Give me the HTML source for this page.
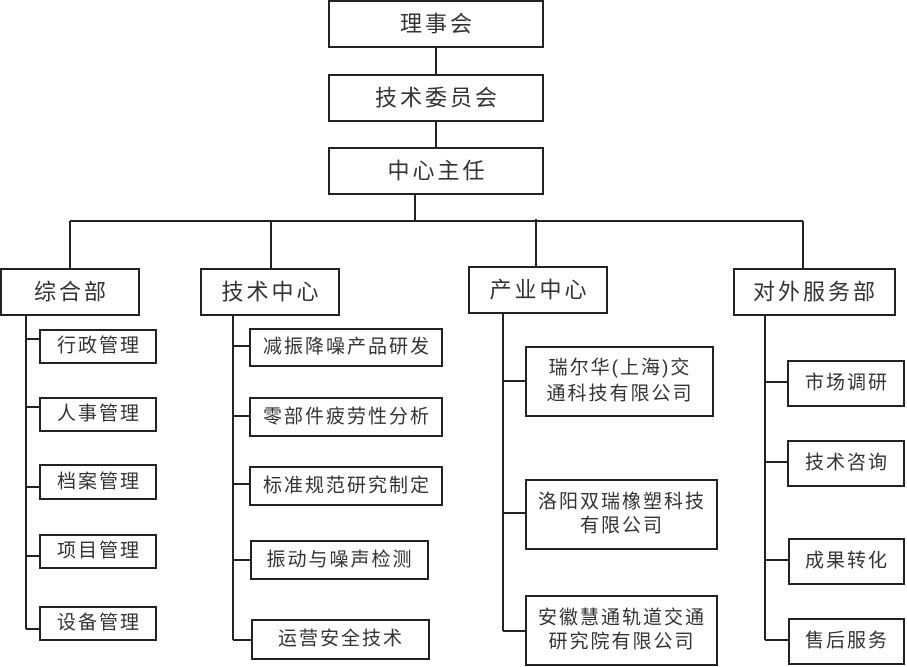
<!DOCTYPE html>
<html><head><meta charset="utf-8"><style>
html,body{margin:0;padding:0;background:#fff;}
svg{display:block;}
text{font-family:"Liberation Sans","Noto Sans CJK SC",sans-serif;fill:#333;text-anchor:middle;dominant-baseline:central;}
.b{fill:#fff;stroke:#222;stroke-width:2;}
.l{stroke:#222;stroke-width:2;fill:none;}
.t1{font-size:22px;letter-spacing:3px;}
.t2{font-size:19px;letter-spacing:2px;}
</style></head><body>
<svg width="907" height="667" viewBox="0 0 907 667" xmlns="http://www.w3.org/2000/svg">
<path class="l" d="M436 47V75 M436 121V148 M415 194V221 M70 221H803 M70 221V269 M271 221V269 M536 219V267 M803 221V269"/>
<path class="l" d="M26 315V629 M26 339H40 M26 407H40 M26 487H40 M26 556H40 M26 629H40"/>
<path class="l" d="M233 315V640 M233 346H250 M233 416H250 M233 484H250 M233 560H251 M233 640H252"/>
<path class="l" d="M503 313V631 M503 381H526 M503 513H526 M503 631H526"/>
<path class="l" d="M765 315V640 M765 382H788 M765 462H788 M765 560H788 M765 640H788"/>
<g transform="translate(1.5,0)">
<rect class="b" x="327.5" y="1" width="214" height="46"/><text class="t1" x="436" y="24">理事会</text>
<rect class="b" x="327.5" y="75" width="214" height="46"/><text class="t1" x="436" y="98">技术委员会</text>
<rect class="b" x="327.5" y="148" width="214" height="46"/><text class="t1" x="436" y="171">中心主任</text>
<rect class="b" x="-0.5" y="269" width="138" height="46"/><text class="t1" x="70" y="292">综合部</text>
<rect class="b" x="199.5" y="269" width="138" height="46"/><text class="t1" x="270" y="292">技术中心</text>
<rect class="b" x="467.5" y="267" width="138" height="46"/><text class="t1" x="538" y="290">产业中心</text>
<rect class="b" x="732.5" y="269" width="161" height="46"/><text class="t1" x="814" y="292">对外服务部</text>
</g>
<g transform="translate(1,0)">
<rect class="b" x="39" y="330" width="116" height="33"/><text class="t2" x="98" y="346">行政管理</text>
<rect class="b" x="39" y="398" width="116" height="33"/><text class="t2" x="98" y="414">人事管理</text>
<rect class="b" x="39" y="465" width="116" height="34"/><text class="t2" x="98" y="482">档案管理</text>
<rect class="b" x="39" y="535" width="116" height="33"/><text class="t2" x="98" y="551">项目管理</text>
<rect class="b" x="39" y="607" width="116" height="33"/><text class="t2" x="98" y="623">设备管理</text>
<rect class="b" x="249" y="329" width="192" height="37"/><text class="t2" x="346" y="347">减振降噪产品研发</text>
<rect class="b" x="249" y="398" width="192" height="38"/><text class="t2" x="346" y="417">零部件疲劳性分析</text>
<rect class="b" x="249" y="467" width="192" height="38"/><text class="t2" x="346" y="486">标准规范研究制定</text>
<rect class="b" x="250" y="541" width="177" height="38"/><text class="t2" x="339" y="560">振动与噪声检测</text>
<rect class="b" x="251" y="620" width="177" height="39"/><text class="t2" x="340" y="639">运营安全技术</text>
<rect class="b" x="525" y="347" width="187" height="69"/><text class="t2" x="619" y="368">瑞尔华(上海)交</text><text class="t2" x="619" y="394">通科技有限公司</text>
<rect class="b" x="525" y="480" width="191" height="69"/><text class="t2" x="621" y="502">洛阳双瑞橡塑科技</text><text class="t2" x="621" y="526">有限公司</text>
<rect class="b" x="525" y="596" width="191" height="69"/><text class="t2" x="621" y="618">安徽慧通轨道交通</text><text class="t2" x="621" y="642">研究院有限公司</text>
<rect class="b" x="787" y="361" width="116" height="45"/><text class="t2" x="846" y="383">市场调研</text>
<rect class="b" x="787" y="441" width="116" height="45"/><text class="t2" x="846" y="463">技术咨询</text>
<rect class="b" x="788" y="539" width="115" height="45"/><text class="t2" x="846" y="561">成果转化</text>
<rect class="b" x="788" y="619" width="115" height="45"/><text class="t2" x="846" y="641">售后服务</text>
</g>
</svg>
</body></html>
